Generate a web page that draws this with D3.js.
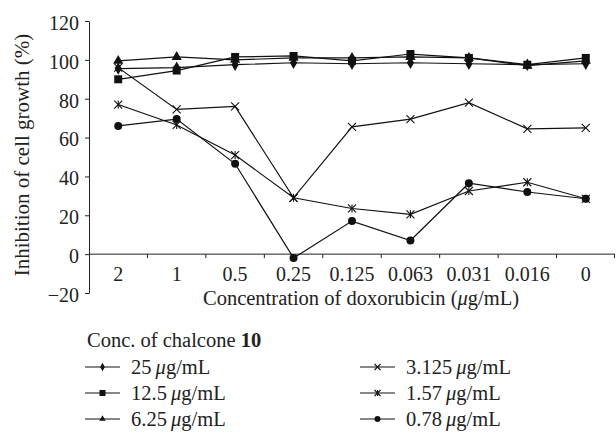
<!DOCTYPE html>
<html>
<head>
<meta charset="utf-8">
<script src="https://cdn.jsdelivr.net/npm/d3@7"></script>
<style>
  body { margin: 0; background: #fff; }
  text { font-family: "Liberation Serif", "DejaVu Serif", serif; fill: #222; }
</style>
</head>
<body>
<div id="chart"></div>
<script>
// doxorubicin concentrations (x categories)
var doses = ["2", "1", "0.5", "0.25", "0.125", "0.063", "0.031", "0.016", "0"];
var yTicks = [-20, 0, 20, 40, 60, 80, 100, 120];

// inhibition (%) per chalcone 10 concentration
var c25   = [95.5, 96, 97.5, 98.5, 98, 98.5, 98, 97.5, 98];
var c12_5 = [90, 94.5, 101.5, 102, 99.5, 103, 101, 97.5, 101];
var c6_25 = [99.5, 101.5, 100, 101, 101, 101.5, 101, 97, 99.5];
var c3_125 = [96, 74.5, 76, 29, 65.5, 69.5, 78, 64.5, 65];
var c1_57 = [77, 66.5, 51, 29, 23.5, 20.5, 32.5, 37, 28.5];
var c0_78 = [66, 69.5, 46.5, -2, 17, 7, 36.5, 32, 28.5];

var seriesNames = ["25", "12.5", "6.25", "3.125", "1.57", "0.78"];
var seriesMarks = ["diamond", "square", "triangle", "cross", "asterisk", "circle"];
var seriesValues = [c25, c12_5, c6_25, c3_125, c1_57, c0_78];

var width = 616, height = 432;
var svg = d3.select("#chart").append("svg")
  .attr("width", width).attr("height", height);

var x = d3.scaleBand().domain(doses).range([89, 615]).padding(0);
var y = d3.scaleLinear().domain([-20, 120]).range([293, 21]);

// y axis
var yAxis = svg.append("g")
  .attr("transform", "translate(89,0)")
  .call(d3.axisLeft(y).tickValues(yTicks).tickSize(4).tickSizeOuter(0)
    .tickFormat(function(d) { return d < 0 ? "\u221220" : d; }));
yAxis.select(".domain").attr("stroke", "#222");
yAxis.selectAll(".tick line").attr("stroke", "#222");
yAxis.selectAll("text").attr("font-size", 20).attr("font-family", "Liberation Serif")
  .attr("x", -10).attr("dy", "0.42em").attr("fill", "#222");

// x axis on zero line, ticks between categories
var xAxis = svg.append("g")
  .attr("transform", "translate(0," + y(0) + ")")
  .call(d3.axisBottom(x).tickSize(0).tickSizeOuter(0));
xAxis.select(".domain").attr("stroke", "#222").attr("d", "M89,0H615");
xAxis.selectAll("text").attr("font-size", 20).attr("font-family", "Liberation Serif")
  .attr("dy", "1.2em").attr("fill", "#222");
xAxis.selectAll(".sep").data(doses.slice(1).concat(["end"]))
  .enter().append("line").attr("class", "sep")
  .attr("x1", function(d) { return d === "end" ? x.range()[1] - 0.5 : x(d); })
  .attr("x2", function(d) { return d === "end" ? x.range()[1] - 0.5 : x(d); })
  .attr("y1", 0).attr("y2", 4).attr("stroke", "#222");

// axis titles
svg.append("text")
  .attr("transform", "translate(29,155) rotate(-90)")
  .attr("text-anchor", "middle").attr("font-size", 21)
  .text("Inhibition of cell growth (%)");

var xt = svg.append("text")
  .attr("x", 361).attr("y", 305).attr("text-anchor", "middle").attr("font-size", 20.5);
xt.append("tspan").text("Concentration of doxorubicin (");
xt.append("tspan").attr("font-style", "italic").text("\u03bc");
xt.append("tspan").text("g/mL)");

function drawMark(g, type, s) {
  if (type === "diamond") {
    g.append("path").attr("d", d3.symbol(d3.symbolDiamond, s * s * 0.55)()).attr("fill", "#111");
  } else if (type === "square") {
    g.append("rect").attr("x", -s / 2).attr("y", -s / 2).attr("width", s).attr("height", s).attr("fill", "#111");
  } else if (type === "triangle") {
    g.append("path").attr("d", d3.symbol(d3.symbolTriangle, s * s * 0.5)()).attr("fill", "#111");
  } else if (type === "circle") {
    g.append("circle").attr("r", s / 2).attr("fill", "#111");
  } else {
    var h = s / 2;
    g.append("path").attr("d", "M" + -h + "," + -h + "L" + h + "," + h + "M" + -h + "," + h + "L" + h + "," + -h)
      .attr("stroke", "#111").attr("stroke-width", 1.1);
    if (type === "asterisk") {
      g.append("path").attr("d", "M0," + -h + "V" + h).attr("stroke", "#111").attr("stroke-width", 1.1);
    }
  }
}

var line = d3.line()
  .x(function(d, i) { return x(doses[i]) + x.bandwidth() / 2; })
  .y(function(d) { return y(d); });

seriesValues.forEach(function(vals, k) {
  svg.append("path").datum(vals)
    .attr("d", line).attr("fill", "none").attr("stroke", "#111").attr("stroke-width", 1.2);
  var pts = svg.selectAll(".pt" + k).data(vals).enter().append("g")
    .attr("transform", function(d, i) {
      return "translate(" + (x(doses[i]) + x.bandwidth() / 2) + "," + y(d) + ")";
    });
  pts.each(function() {
    var mk = seriesMarks[k];
    drawMark(d3.select(this), mk, mk === "triangle" ? 9.5 : mk === "diamond" ? 9 : 8);
  });
});

// legend
var lt = svg.append("text").attr("x", 87).attr("y", 347).attr("font-size", 20.5);
lt.append("tspan").text("Conc. of chalcone ");
lt.append("tspan").attr("font-weight", "bold").text("10");

seriesNames.forEach(function(name, k) {
  var col = Math.floor(k / 3), row = k % 3;
  var lx = col === 0 ? 85 : 360;
  var ly = 367 + row * 26;
  var g = svg.append("g");
  g.append("line").attr("x1", lx).attr("x2", lx + 35).attr("y1", ly).attr("y2", ly)
    .attr("stroke", "#111").attr("stroke-width", 1.2);
  var m = g.append("g").attr("transform", "translate(" + (lx + 17.5) + "," + ly + ")");
  drawMark(m, seriesMarks[k], 6);
  var t = g.append("text").attr("x", lx + 46).attr("y", ly + 6.5).attr("font-size", 20.5);
  t.append("tspan").text(name + "\u2009");
  t.append("tspan").attr("font-style", "italic").text("\u03bc");
  t.append("tspan").text("g/mL");
});
</script>
</body>
</html>
